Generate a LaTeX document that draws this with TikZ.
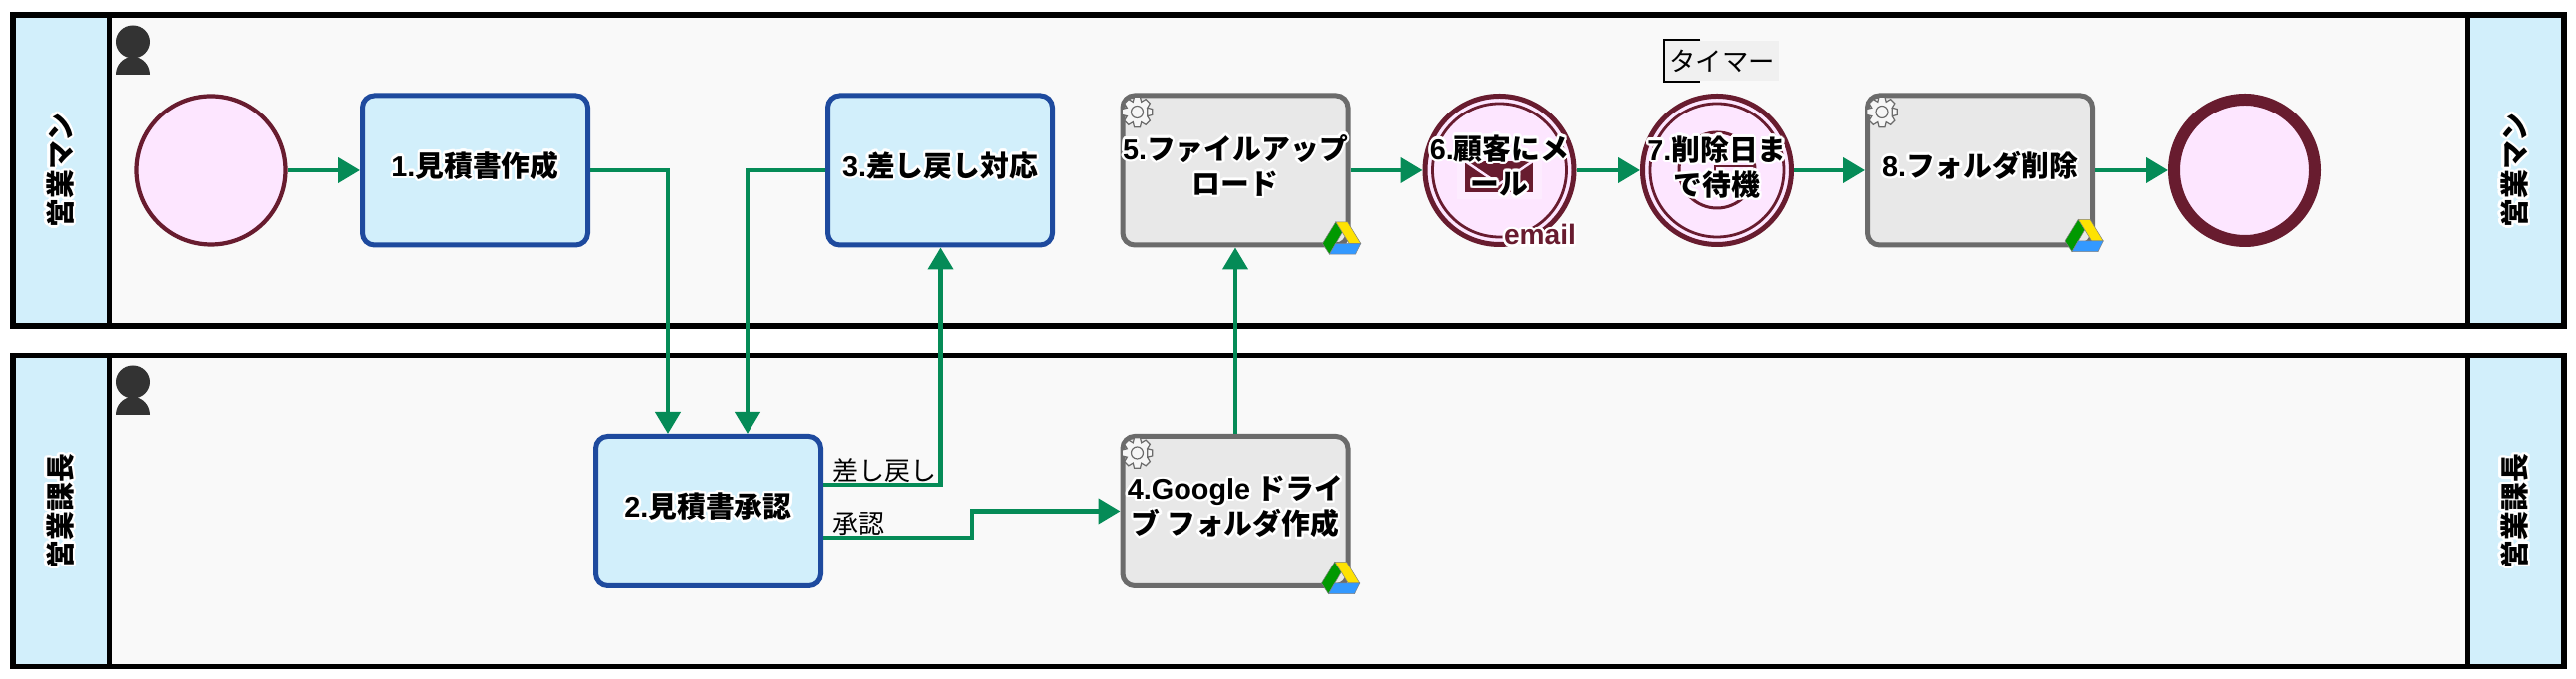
\documentclass[tikz,border=0pt]{standalone}
\usepackage{fontspec}
\usepackage{contour}
\usetikzlibrary{arrows.meta}
\setmainfont{Noto Sans CJK JP}
\newfontfamily\latinfont{Liberation Sans}
\contourlength{0.7pt}
\newcommand{\halo}[1]{\contour{white}{#1}}
\newcommand{\lat}[1]{{\latinfont\bfseries #1}}
\definecolor{flowgreen}{HTML}{058B57}
\definecolor{taskblue}{HTML}{1E4A9E}
\definecolor{paleblue}{HTML}{D2EFFB}
\definecolor{maroon}{HTML}{681C2F}
\definecolor{palepink}{HTML}{FDE6FF}
\definecolor{lanegray}{HTML}{F9F9F9}
\definecolor{servicegray}{HTML}{E8E8E8}
\definecolor{serviceedge}{HTML}{6B6B6B}
\begin{document}
\begin{tikzpicture}[
        flow/.style={draw=flowgreen, line width=0.042cm, -{Triangle[length=0.22cm, width=0.25cm]}},
        lanebox/.style={draw=black, line width=0.055cm, fill=lanegray, minimum width=25.63cm, minimum height=3.12cm, inner sep=0pt},
        lanetitle/.style={draw=black, line width=0.055cm, fill=paleblue, rotate=90, minimum width=3.12cm, minimum height=0.97cm, inner sep=0pt, font=\fontsize{8.2}{10}\selectfont\bfseries},
        basebox/.style={line width=0.05cm, rounded corners=0.12cm, minimum width=2.26cm, minimum height=1.5cm, inner sep=0pt},
        userbox/.style={basebox, draw=taskblue, fill=paleblue},
        servicebox/.style={basebox, draw=serviceedge, fill=servicegray},
        eventbox/.style={circle, draw=maroon, line width=0.05cm, fill=palepink, minimum size=1.49cm, inner sep=0pt},
        boxtext/.style={align=center, inner sep=0pt, font=\fontsize{8.2}{10}\selectfont\bfseries},
        edgelabel/.style={anchor=west, inner sep=0pt, font=\fontsize{7.4}{9}\selectfont},
        person/.pic={
            \fill[black!80] (0,0) ellipse (0.17 and 0.165);
            \fill[black!80] (-0.17,-0.33) arc (180:0:0.17 and 0.18) -- cycle;
        },
        gear/.pic={
            \draw[serviceedge, line width=0.012cm, fill=white!60!servicegray] (22.5:0.11)
                \foreach \a in {0,45,...,315}{
                    -- (\a-22.5:0.11) -- (\a-11:0.155) -- (\a+11:0.155) -- (\a+22.5:0.11)
                } -- cycle;
            \draw[serviceedge, line width=0.012cm] (0,0) circle (0.06);
        },
        drive/.pic={
            \filldraw[draw=gray, line width=0.005cm, fill=green!60!black] (-0.067,0.167) -- (-0.2,-0.05) -- (-0.13,-0.157) -- (0,0.067) -- cycle;
            \filldraw[draw=gray, line width=0.005cm, fill=yellow!85!orange] (-0.067,0.167) -- (0.05,0.167) -- (0.183,-0.05) -- (0.067,-0.05) -- cycle;
            \filldraw[draw=gray, line width=0.005cm, fill=blue!50!cyan!80] (-0.13,-0.157) -- (0.13,-0.157) -- (0.183,-0.05) -- (-0.07,-0.05) -- cycle;
        }
    ]
        \useasboundingbox (0,0) rectangle (25.88,6.82);

        % lanes
        \node[lanebox] (saleslane) at (12.945,5.11) {};
        \node[lanebox] (chieflane) at (12.945,1.685) {};
        \node[lanetitle] (salesleft) at (0.615,5.11) {\halo{営業マン}};
        \node[lanetitle] (salesright) at (25.275,5.11) {\halo{営業マン}};
        \node[lanetitle] (chiefleft) at (0.615,1.685) {\halo{営業課長}};
        \node[lanetitle] (chiefright) at (25.275,1.685) {\halo{営業課長}};
        \pic at (1.34,6.4) {person};
        \pic at (1.34,2.98) {person};

        % upper lane
        \node[eventbox, line width=0.042cm] (start) at (2.12,5.11) {};
        \node[userbox] (estimate) at (4.775,5.11) {};
        \node[userbox] (rework) at (9.445,5.11) {};
        \node[servicebox] (upload) at (12.41,5.11) {};
        \node[eventbox] (mail) at (15.065,5.11) {};
        \node[eventbox] (wait) at (17.25,5.11) {};
        \node[servicebox] (cleanup) at (19.895,5.11) {};
        \node[eventbox, line width=0.12cm, minimum size=1.42cm] (finish) at (22.55,5.11) {};

        % lower lane
        \node[userbox] (approve) at (7.115,1.685) {};
        \node[servicebox] (folder) at (12.41,1.685) {};

        % event icons
        \draw[maroon, line width=0.028cm] (mail) circle (0.67);
        \draw[maroon, line width=0.028cm] (wait) circle (0.67);
        \fill[white!25!palepink] (14.64,4.82) rectangle (15.49,5.3);
        \fill[maroon] (14.72,4.89) rectangle (15.4,5.2);
        \draw[palepink, line width=0.025cm] (14.72,5.2) -- (15.06,4.97) -- (15.4,5.2);
        \draw[maroon, line width=0.03cm] (wait) circle (0.38);
        \draw[maroon, line width=0.02cm] (17.23,4.95) rectangle (17.63,5.15);

        % small icons
        \pic at ([shift={(0.17,-0.19)}]upload.north west) {gear};
        \pic at ([shift={(0.17,-0.19)}]cleanup.north west) {gear};
        \pic at ([shift={(0.17,-0.19)}]folder.north west) {gear};
        \pic at ([shift={(-0.08,0.09)}]upload.south east) {drive};
        \pic at ([shift={(-0.1,0.115)}]cleanup.south east) {drive};
        \pic at ([shift={(-0.09,0.1)}]folder.south east) {drive};

        % box texts
        \node[boxtext] (estimatetext) at ([yshift=0.035cm]estimate) {\halo{\lat{1.}見積書作成}};
        \node[boxtext] (approvetext) at ([yshift=0.035cm]approve) {\halo{\lat{2.}見積書承認}};
        \node[boxtext] (reworktext) at ([yshift=0.035cm]rework) {\halo{\lat{3.}差し戻し対応}};
        \node[boxtext] (foldertext) at ([yshift=0.035cm]folder) {\halo{\lat{4.Google} ドライ}\\ \halo{ブ フォルダ作成}};
        \node[boxtext] (uploadtext) at ([yshift=0.035cm]upload) {\halo{\lat{5.}ファイルアップ}\\ \halo{ロード}};
        \node[boxtext] (mailtext) at ([yshift=0.035cm]mail) {\halo{\lat{6.}顧客にメ}\\ \halo{ール}};
        \node[boxtext] (waittext) at ([yshift=0.02cm]wait) {\halo{\lat{7.}削除日ま}\\ \halo{で待機}};
        \node[boxtext] (cleanuptext) at ([yshift=0.035cm]cleanup) {\halo{\lat{8.}フォルダ削除}};
        \node[inner sep=0pt, text=maroon, font=\latinfont\fontsize{8}{9}\selectfont\bfseries] (maillabel) at (15.47,4.45) {\halo{email}};

        % timer note
        \node[fill=black!6, minimum width=1.14cm, minimum height=0.4cm, inner sep=0pt, font=\fontsize{7.5}{9}\selectfont] (timer) at (17.3,6.21) {タイマー};
        \draw[black, line width=0.018cm] ([xshift=0.36cm]timer.north west) -- (timer.north west) -- (timer.south west) -- ([xshift=0.36cm]timer.south west);

        % connectors
        \draw[flow] (start) -- (estimate);
        \draw[flow] (estimate.east) -| ([xshift=-0.405cm]approve.north);
        \draw[flow] (rework.west) -| ([xshift=0.395cm]approve.north);
        \draw[flow] ([yshift=0.265cm]approve.east) -| (rework.south);
        \draw[flow] ([yshift=-0.265cm]approve.east) -- ++(1.5,0) |- (folder.west);
        \draw[flow] (folder.north) -- (upload.south);
        \draw[flow] (upload) -- (mail);
        \draw[flow] (mail) -- (wait);
        \draw[flow] (wait) -- (cleanup);
        \draw[flow] (cleanup) -- (finish);

        % connector labels
        \node[edgelabel] (returnlabel) at ([xshift=0.09cm, yshift=0.405cm]approve.east) {差し戻し};
        \node[edgelabel] (approvelabel) at ([xshift=0.09cm, yshift=-0.125cm]approve.east) {承認};

    \end{tikzpicture}
\end{document}
